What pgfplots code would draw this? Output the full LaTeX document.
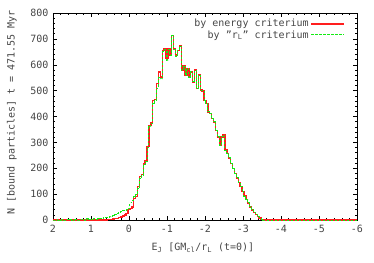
\documentclass[border=0pt]{standalone}
\usepackage{fontspec}
\setmainfont{DejaVu Sans Mono}
\usepackage{pgfplots}
\pgfplotsset{compat=1.18}
\usepackage{pgfplotstable}

\pgfplotstableread{
x r g
2.00 0 0
1.95 0 0
1.90 0 1
1.85 0 0
1.80 0 0
1.75 0 2
1.70 0 0
1.65 0 0
1.60 0 3
1.55 0 2
1.50 0 0
1.45 0 0
1.40 0 2
1.35 0 0
1.30 0 0
1.25 0 1
1.20 0 3
1.15 0 0
1.10 0 5
1.05 0 3
1.00 0 1
0.95 0 2
0.90 0 4
0.85 0 3
0.80 0 5
0.75 0 6
0.70 0 4
0.65 0 8
0.60 0 9
0.55 1 10
0.50 2 12
0.45 3 15
0.40 4 19
0.35 5 20
0.30 6 26
0.25 9 30
0.20 12 32
0.15 16 36
0.10 20 38
0.05 26 42
0.00 40 45
-0.05 45 66
-0.10 51 75
-0.15 84 90
-0.20 90 100
-0.25 130 120
-0.30 167 160
-0.35 175 172
-0.40 219 215
-0.45 228 226
-0.50 283 280
-0.55 365 360
-0.60 375 372
-0.65 463 450
-0.70 465 462
-0.75 527 510
-0.80 572 550
-0.85 553 545
-0.90 656 650
-0.95 662 658
-1.00 624 615
-1.05 662 660
-1.10 637 637
-1.15 714 712
-1.20 662 660
-1.25 637 632
-1.30 656 656
-1.35 675 672
-1.40 579 579
-1.45 598 595
-1.50 560 560
-1.55 585 585
-1.60 553 550
-1.65 572 572
-1.70 534 534
-1.75 579 579
-1.80 508 508
-1.85 560 560
-1.90 502 502
-1.95 499 499
-2.00 463 463
-2.05 450 450
-2.10 418 418
-2.15 412 412
-2.20 392 392
-2.25 379 379
-2.30 345 345
-2.35 321 321
-2.40 289 289
-2.45 321 321
-2.50 328 328
-2.55 270 270
-2.60 257 257
-2.65 240 240
-2.70 219 219
-2.75 199 199
-2.80 180 180
-2.85 163 163
-2.90 145 145
-2.95 130 130
-3.00 110 110
-3.05 92 92
-3.10 80 80
-3.15 66 66
-3.20 51 51
-3.25 39 39
-3.30 30 30
-3.35 22 22
-3.40 13 13
-3.45 7 7
-3.50 3 3
-3.55 0 0
-6.00 0 0
}\histdata

\definecolor{gpred}{RGB}{255,30,30}
\definecolor{gpgreen}{RGB}{20,235,20}
\definecolor{txt}{RGB}{70,70,70}

\begin{document}
\begin{tikzpicture}
\useasboundingbox (-53pt,-42pt) rectangle (321pt,220pt);
\begin{axis}[
  at={(0,0)}, anchor=south west,
  scale only axis, width=304pt, height=207pt,
  xmin=-6, xmax=2, ymin=0, ymax=800,
  x dir=reverse,
  xtick={-6,-5,-4,-3,-2,-1,0,1,2},
  xticklabels={-6,-5,-4,-3,-2,-1,0,1,2},
  ytick={0,100,200,300,400,500,600,700,800},
  yticklabels={0,100,200,300,400,500,600,700,800},
  minor x tick num=4, minor y tick num=4,
  tick align=inside,
  major tick length=4pt, minor tick length=2pt,
  tick style={black, line width=0.5pt},
  axis line style={black, line width=0.6pt},
  /pgf/number format/assume math mode=true,
  tick label style={font=\fontsize{10}{10}\selectfont, text=txt},
  xticklabel style={yshift=-2pt},
  yticklabel style={xshift=-1pt},
  every axis y label/.style={at={(axis description cs:-0.135,0.52)}, rotate=90, anchor=center, font=\fontsize{10}{10}\selectfont, text=txt},
  every axis x label/.style={at={(axis description cs:0.493,-0.135)}, anchor=center, font=\fontsize{10}{10}\selectfont, text=txt},
  ylabel={N [bound particles] t = 471.55 Myr},
  xlabel={E\textsubscript{J} [GM\textsubscript{cl}/r\textsubscript{L} (t=0)]},
  legend style={draw=none, fill=none, at={(0.965,0.985)}, anchor=north east,
    font=\fontsize{10}{10}\selectfont, text=txt, row sep=-2pt, inner sep=1pt},
  legend cell align=right,
  legend plot pos=right,
  legend image code/.code={\draw[#1] (0pt,0pt) -- (33pt,0pt);},
]
\addplot[const plot mark mid, gpred, line width=1.4pt] table[x=x, y=r] {\histdata};
\addlegendentry{by energy criterium}
\addplot[const plot mark mid, gpgreen, line width=1pt, dash pattern=on 2.5pt off 1.5pt] table[x=x, y=g] {\histdata};
\addlegendentry{by \char34 r\textsubscript{L}\char34\ criterium}
\end{axis}
\end{tikzpicture}
\end{document}
